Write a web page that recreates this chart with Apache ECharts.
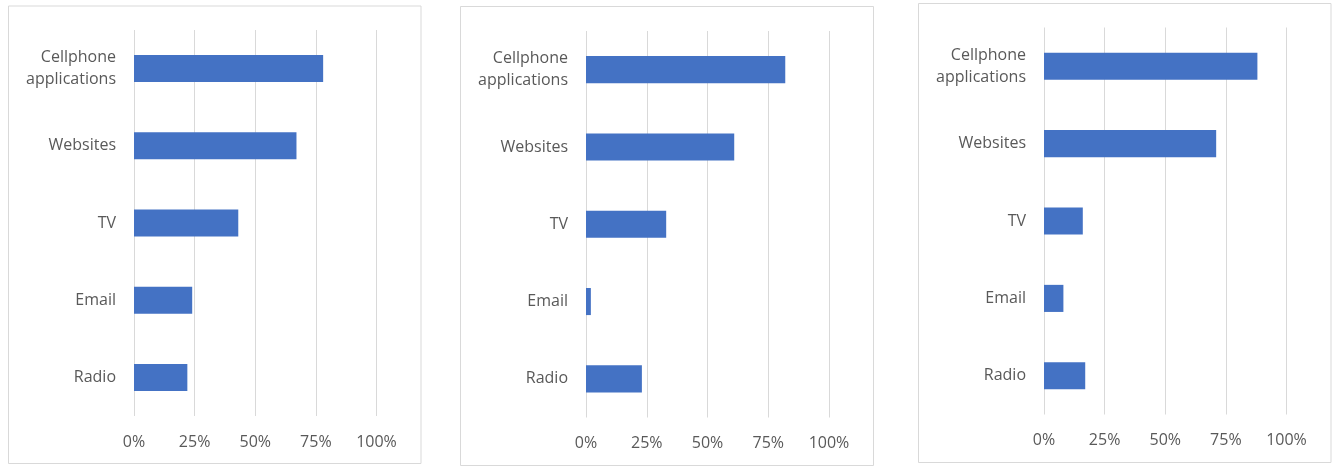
<!DOCTYPE html>
<html>
<head>
<meta charset="utf-8">
<script src="https://cdn.jsdelivr.net/npm/echarts@6/dist/echarts.min.js"></script>
<style>html,body{margin:0;padding:0;background:#fff;}#c{width:1336px;height:466px;}</style>
</head>
<body>
<div id="c"></div>
<script>
const categories = ['Cellphone\napplications', 'Websites', 'TV', 'Email', 'Radio'];
const panel1Values = [0.78, 0.67, 0.43, 0.24, 0.22];
const panel2Values = [0.82, 0.61, 0.33, 0.02, 0.23];
const panel3Values = [0.88, 0.71, 0.16, 0.08, 0.17];
const xTicks = [0, 0.25, 0.5, 0.75, 1];

const font = 'Open Sans';
const textColor = '#595959';
const gridColor = '#d9d9d9';
const barColor = '#4472C4';

const grids = [
  {left: 134, top: 30, width: 242.5, height: 386},
  {left: 586, top: 31, width: 243, height: 386.5},
  {left: 1044, top: 27.5, width: 242.5, height: 387}
];
const panels = [
  {x: 8.5, y: 6, w: 412.5, h: 457.5},
  {x: 460.5, y: 6.5, w: 413, h: 459},
  {x: 918.5, y: 3.5, w: 412.5, h: 459}
];
const values = [panel1Values, panel2Values, panel3Values];

const chart = echarts.init(document.getElementById('c'), null, {renderer: 'canvas'});
chart.setOption({
  animation: false,
  backgroundColor: '#fff',
  graphic: panels.map(p => ({
    type: 'rect', silent: true, z: -10,
    shape: {x: p.x, y: p.y, width: p.w, height: p.h},
    style: {fill: '#fff', stroke: gridColor, lineWidth: 1}
  })),
  grid: grids.map(g => Object.assign({containLabel: false}, g)),
  xAxis: grids.map((g, i) => ({
    type: 'value', gridIndex: i, min: xTicks[0], max: xTicks[xTicks.length - 1], interval: 0.25,
    axisLine: {show: false}, axisTick: {show: false},
    splitLine: {show: true, lineStyle: {color: gridColor, width: 1}},
    axisLabel: {
      color: textColor, fontFamily: font, fontSize: 16, margin: 18,
      formatter: v => Math.round(v * 100) + '%'
    }
  })),
  yAxis: grids.map((g, i) => ({
    type: 'category', gridIndex: i, data: categories, inverse: true,
    axisLine: {show: false}, axisTick: {show: false}, splitLine: {show: false},
    axisLabel: {color: textColor, fontFamily: font, fontSize: 16, margin: 18, lineHeight: 22, align: 'right'}
  })),
  series: values.map((vals, i) => ({
    type: 'bar', xAxisIndex: i, yAxisIndex: i, data: vals,
    barCategoryGap: '65%',
    itemStyle: {color: barColor},
    silent: true
  }))
});
</script>
</body>
</html>
